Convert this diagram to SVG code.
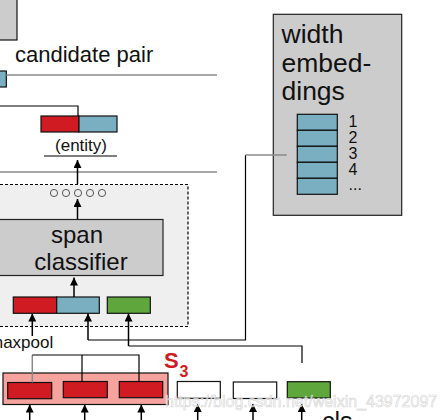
<svg xmlns="http://www.w3.org/2000/svg" width="445" height="420" viewBox="0 0 445 420">
<defs>
<marker id="ah" viewBox="0 0 10 10" refX="10" refY="5" markerWidth="8" markerHeight="8" markerUnits="userSpaceOnUse" orient="auto">
<path d="M0,0 L10,5 L0,10 z" fill="#000"/>
</marker>
<style>
.t{font-family:"Liberation Sans",Arial,sans-serif;fill:#111}
.red{fill:#d01b22;stroke:#111;stroke-width:1.2}
.blue{fill:#7aafc1;stroke:#111;stroke-width:1.2}
.green{fill:#5fa63c;stroke:#111;stroke-width:1.2}
.white{fill:#fff;stroke:#111;stroke-width:1.2}
.ln{fill:none;stroke:#000;stroke-width:1.2}
.gl{fill:none;stroke:#8a8a8a;stroke-width:1.5}
.ar{fill:none;stroke:#000;stroke-width:1.5;marker-end:url(#ah)}
</style>
</defs>
<rect width="445" height="420" fill="#fff"/>

<g id="topbox"><rect x="-5" y="-5" width="22" height="45" fill="#cccccc" stroke="#111" stroke-width="1.2"/></g>

<g id="candidate-pair">
<text class="t" x="15" y="62" font-size="22">candidate pair</text>
<rect class="blue" x="-5" y="71" width="11.3" height="16"/>
</g>

<g id="entity">
<rect class="red" x="41" y="116" width="38" height="16"/>
<rect class="blue" x="79" y="116" width="38" height="16"/>
<text class="t" x="81" y="151" font-size="17" text-anchor="middle">(entity)</text>
</g>

<g id="span-block">
<rect x="-5" y="184.5" width="193" height="142" fill="#efefef" stroke="#000" stroke-width="1.2" stroke-dasharray="3,2"/>
<g fill="none" stroke="#444" stroke-width="0.9">
<circle cx="54" cy="193" r="3.6"/>
<circle cx="66" cy="193" r="3.6"/>
<circle cx="78" cy="193" r="3.6"/>
<circle cx="90" cy="193" r="3.6"/>
<circle cx="102" cy="193" r="3.6"/>
</g>
</g>

<g id="span-classifier">
<rect x="-5" y="219.5" width="168" height="56" fill="#cccccc" stroke="#222" stroke-width="1.2"/>
<text class="t" x="77" y="243" font-size="24" text-anchor="middle">span</text>
<text class="t" x="81" y="270" font-size="24" text-anchor="middle">classifier</text>
</g>

<g id="span-repr">
<rect class="red" x="13.3" y="297" width="43.4" height="16.3"/>
<rect class="blue" x="56.7" y="297" width="42.6" height="16.3"/>
<rect class="green" x="107.3" y="297" width="43" height="16.3"/>
</g>

<g id="maxpool-label"><text class="t" x="-11" y="348" font-size="17">maxpool</text></g>

<g id="width-embeddings">
<rect x="273.3" y="14.3" width="128.4" height="201" fill="#cccccc" stroke="#222" stroke-width="1.2"/>
<text class="t" x="281.5" y="43" font-size="26.5">width</text>
<text class="t" x="281.5" y="71.5" font-size="26.5">embed-</text>
<text class="t" x="281.5" y="100" font-size="26.5">dings</text>
<rect class="blue" x="297.3" y="114.3" width="40" height="16"/>
<rect class="blue" x="297.3" y="130.3" width="40" height="16"/>
<rect class="blue" x="297.3" y="146.3" width="40" height="16"/>
<rect class="blue" x="297.3" y="162.3" width="40" height="16"/>
<rect class="blue" x="297.3" y="178.3" width="40" height="16"/>
<text class="t" x="348.5" y="126.5" font-size="16">1</text>
<text class="t" x="348.5" y="142.5" font-size="16">2</text>
<text class="t" x="348.5" y="158.5" font-size="16">3</text>
<text class="t" x="348.5" y="174.5" font-size="16">4</text>
<text class="t" x="348.5" y="190" font-size="16">...</text>
</g>

<g id="s3-span">
<rect x="3" y="373" width="165" height="31.5" fill="#f7a39d" stroke="#111" stroke-width="1.2"/>
<rect class="red" x="7.7" y="382.5" width="44" height="16.2"/>
<rect class="red" x="63.3" y="381.5" width="44" height="16.2"/>
<rect class="red" x="119.3" y="381.5" width="43.4" height="16.2"/>
<text x="164" y="367.5" font-family="Liberation Sans,Arial,sans-serif" font-weight="bold" font-size="22" fill="#d01b22">S</text>
<text x="179.5" y="377" font-family="Liberation Sans,Arial,sans-serif" font-weight="bold" font-size="16" fill="#d01b22">3</text>
</g>

<g id="tokens">
<rect class="white" x="177.3" y="381.5" width="43" height="16.8"/>
<rect class="white" x="233.3" y="382" width="43.4" height="16.5"/>
<rect class="green" x="287.3" y="381.7" width="43" height="16.3"/>
<text class="t" x="322" y="430" font-size="25">cls</text>
</g>

<g id="connectors">
<path class="gl" d="M6.3,75 H217"/>
<path class="gl" d="M0,172 H217"/>
<path class="ln" d="M0,106 H78 V116"/>
<path class="ln" d="M44,156 H117"/>
<path class="ar" d="M77.5,184 V160"/>
<path class="ar" d="M77.5,219 V199"/>
<path class="ar" d="M74,297 V277.5"/>
<path class="ar" d="M32.3,336 V313.5"/>
<path class="ar" d="M88,340 V313.5"/>
<path class="ar" d="M128.5,346 V313.5"/>
<path class="ln" d="M88,340 H245.5 V155"/>
<path class="gl" d="M245.5,155 H286.7"/>
<path class="ln" d="M128.5,346 H302 V363"/>
<path class="gl" d="M32.3,355 V382.5"/>
<path class="ln" d="M32.3,355 H139 V381.5 M82,355 V381.5"/>
<path class="ar" d="M29.7,420 V404.5"/>
<path class="ar" d="M84.7,420 V404.5"/>
<path class="ar" d="M141.3,420 V404.5"/>
<path class="ar" d="M197.7,420 V404"/>
<path class="ar" d="M253,420 V404"/>
<path class="ar" d="M301.7,420 V404"/>
</g>

<g id="watermark"><text x="165" y="407" font-family="Liberation Sans,Arial,sans-serif" font-size="16" fill="#ffffff" fill-opacity="0.75" stroke="#c8c8c8" stroke-width="0.6" stroke-opacity="0.8">https://blog.csdn.net/weixin_43972097</text></g>
</svg>
